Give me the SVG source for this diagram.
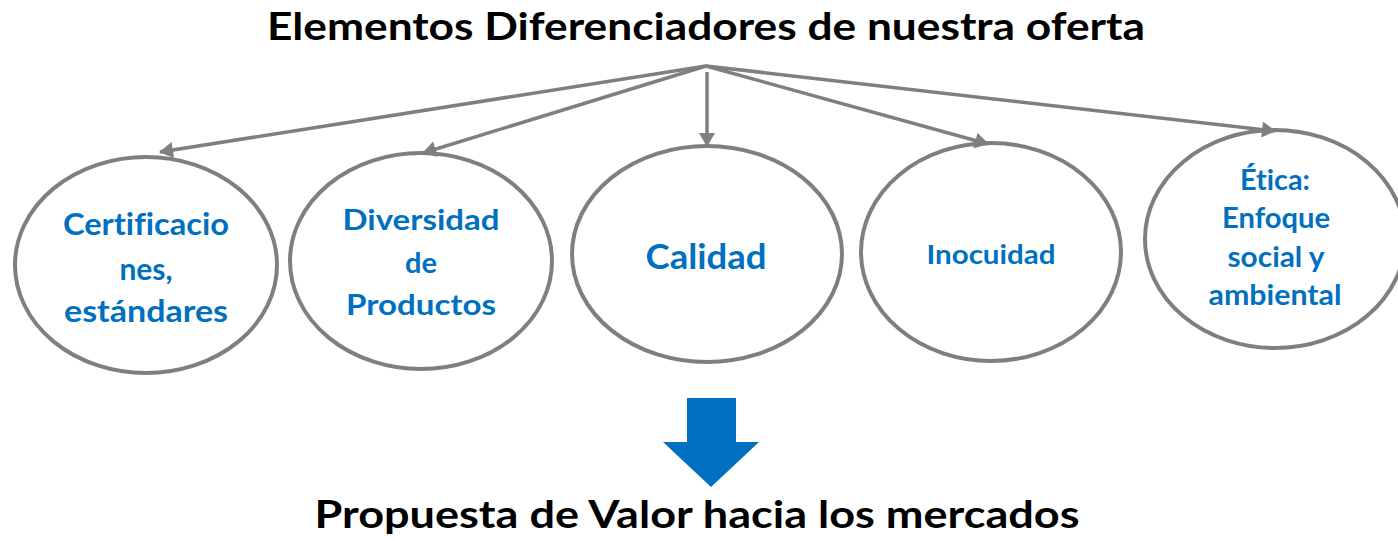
<svg xmlns="http://www.w3.org/2000/svg" width="1398" height="541" viewBox="0 0 1398 541">
<style>
.title{font-family:Lato,"Liberation Sans",sans-serif;font-weight:700;font-size:38px;fill:#000;text-anchor:middle;font-variant-ligatures:none}
.lbl{font-family:Lato,"Liberation Sans",sans-serif;font-weight:700;fill:#0070C0;text-anchor:middle;font-variant-ligatures:none}
.node{fill:#fff;stroke:#7F7F7F;stroke-width:4}
.conn line{stroke:#7F7F7F;stroke-width:3.5;marker-end:url(#ah)}
</style>
<defs>
<marker id="ah" markerUnits="userSpaceOnUse" markerWidth="16" markerHeight="16" viewBox="0 0 14 16" refX="13" refY="8" orient="auto">
<path d="M0,0 L14,8 L0,16 Z" fill="#7F7F7F"/>
</marker>
</defs>
<rect width="1398" height="541" fill="#fff"/>
<text class="title" x="706" y="40" textLength="878" lengthAdjust="spacingAndGlyphs">Elementos Diferenciadores de nuestra oferta</text>
<g id="n1"><ellipse class="node" cx="146" cy="265" rx="131" ry="108"/>
<text class="lbl" font-size="30"><tspan x="146" y="235" textLength="166" lengthAdjust="spacingAndGlyphs">Certificacio</tspan><tspan x="146" y="280">nes,</tspan><tspan x="146" y="322" textLength="164" lengthAdjust="spacingAndGlyphs">estándares</tspan></text></g>
<g id="n2"><ellipse class="node" cx="421" cy="261" rx="131" ry="108"/>
<text class="lbl" font-size="29"><tspan x="421" y="230" textLength="157" lengthAdjust="spacingAndGlyphs">Diversidad</tspan><tspan x="421" y="273">de</tspan><tspan x="421" y="315" textLength="150" lengthAdjust="spacingAndGlyphs">Productos</tspan></text></g>
<g id="n3"><ellipse class="node" cx="707" cy="254" rx="135" ry="108"/>
<text class="lbl" font-size="35" x="706" y="269" textLength="121" lengthAdjust="spacingAndGlyphs">Calidad</text></g>
<g id="n4"><ellipse class="node" cx="991" cy="252" rx="130" ry="109"/>
<text class="lbl" font-size="27" x="991" y="264" textLength="129" lengthAdjust="spacingAndGlyphs">Inocuidad</text></g>
<g id="n5"><ellipse class="node" cx="1275" cy="239" rx="130" ry="109"/>
<text class="lbl" font-size="28"><tspan x="1275" y="190" textLength="70" lengthAdjust="spacingAndGlyphs">Ética:</tspan><tspan x="1276" y="228" textLength="108" lengthAdjust="spacingAndGlyphs">Enfoque</tspan><tspan x="1276" y="267" textLength="97" lengthAdjust="spacingAndGlyphs">social y</tspan><tspan x="1275" y="305" textLength="133" lengthAdjust="spacingAndGlyphs">ambiental</tspan></text></g>
<g id="connectors" class="conn">
<line x1="706" y1="66" x2="160" y2="152"/>
<line x1="706" y1="66" x2="423" y2="153"/>
<line x1="707" y1="72" x2="707" y2="146"/>
<line x1="706" y1="66" x2="988" y2="144"/>
<line x1="706" y1="66" x2="1275" y2="131"/>
</g>
<g id="downArrow"><polygon points="687,398 736,398 736,442 759,442 711,487 663,442 687,442" fill="#0070C0"/></g>
<text class="title" x="697" y="528" textLength="765" lengthAdjust="spacingAndGlyphs">Propuesta de Valor hacia los mercados</text>
</svg>
